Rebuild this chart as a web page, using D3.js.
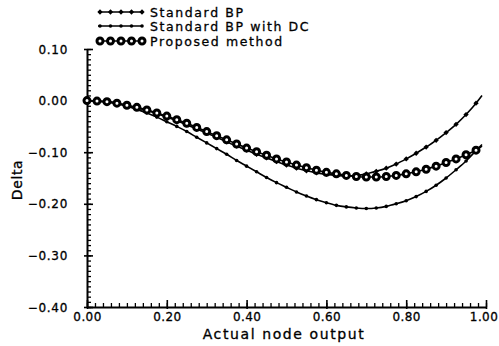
<!DOCTYPE html>
<meta charset="utf-8">
<style>
body { margin: 0; background: #fff; }
svg { display: block; }
text { font-family: "DejaVu Sans", sans-serif; fill: #000; stroke: #000; stroke-width: 0.3; }
</style>
<body>
<svg width="499" height="346"></svg>
</body>
<script src="https://d3js.org/d3.v7.min.js"></script>
<script>

// node output values where the curves were sampled
var xs = [0, 0.025, 0.05, 0.075, 0.1, 0.125, 0.15, 0.175, 0.2, 0.225,
  0.25, 0.275, 0.3, 0.325, 0.35, 0.375, 0.4, 0.425, 0.45, 0.475,
  0.5, 0.525, 0.55, 0.575, 0.6, 0.625, 0.65, 0.675, 0.7, 0.725,
  0.75, 0.775, 0.8, 0.825, 0.85, 0.875, 0.9, 0.925, 0.95, 0.975, 0.99];

var standardBP = [0, -0.001, -0.002, -0.005, -0.009, -0.014, -0.019, -0.025, -0.032, -0.039,
  -0.047, -0.055, -0.063, -0.071, -0.080, -0.088, -0.096, -0.104, -0.111, -0.118,
  -0.125, -0.131, -0.136, -0.140, -0.143, -0.145, -0.146, -0.145, -0.142, -0.137,
  -0.131, -0.123, -0.113, -0.102, -0.090, -0.077, -0.062, -0.046, -0.027, -0.005, 0.010];

var standardBPwithDC = [0, -0.001, -0.003, -0.006, -0.011, -0.017, -0.024, -0.032, -0.041, -0.050,
  -0.060, -0.071, -0.082, -0.093, -0.104, -0.116, -0.127, -0.138, -0.149, -0.159,
  -0.168, -0.177, -0.185, -0.192, -0.198, -0.203, -0.206, -0.208, -0.209, -0.208,
  -0.205, -0.200, -0.194, -0.186, -0.176, -0.164, -0.150, -0.134, -0.117, -0.097, -0.085];

var proposed = [0, -0.001, -0.002, -0.005, -0.009, -0.013, -0.018, -0.024, -0.030, -0.037,
  -0.044, -0.052, -0.060, -0.068, -0.076, -0.084, -0.092, -0.099, -0.106, -0.113,
  -0.119, -0.125, -0.130, -0.135, -0.139, -0.142, -0.145, -0.147, -0.148, -0.148,
  -0.147, -0.145, -0.142, -0.138, -0.133, -0.127, -0.120, -0.113, -0.105, -0.096, -0.088];

var legendLabels = ["Standard  BP", "Standard  BP  with  DC", "Proposed  method"];
var xTicks = [0, 0.2, 0.4, 0.6, 0.8, 1.0];
var yTicks = [0.10, 0.00, -0.10, -0.20, -0.30, -0.40];
var xMinor = d3.range(0, 51).map(i => i / 50);
var yMinor = d3.range(0, 51).map(i => (10 - i) / 100);

var svg = d3.select("svg");

var x = d3.scaleLinear().domain([0, 1]).range([87, 486]);
var y = d3.scaleLinear().domain([-0.4, 0.1]).range([307, 49]);

var fmt = function(v) { return d3.format(".2f")(v).replace("-", "\u2212"); };

// ---- axes ----
// minor ticks pointing into the plot
svg.append("g")
    .attr("transform", `translate(${x(0)},0)`)
    .call(d3.axisLeft(y).tickValues(yMinor).tickSizeInner(-4).tickSizeOuter(0).tickFormat(""))
    .call(g => g.selectAll(".tick line").attr("stroke-width", 1.3))
    .call(g => g.select(".domain").attr("stroke-width", 2));

svg.append("g")
    .attr("transform", `translate(0,${y(-0.4)})`)
    .call(d3.axisBottom(x).tickValues(xMinor).tickSizeInner(-4).tickSizeOuter(0).tickFormat(""))
    .call(g => g.selectAll(".tick line").attr("stroke-width", 1.3))
    .call(g => g.select(".domain").attr("stroke-width", 2));

// major ticks and labels
svg.append("g")
    .attr("transform", `translate(${x(0)},0)`)
    .call(d3.axisLeft(y).tickValues(yTicks).tickSize(3).tickPadding(16).tickFormat(fmt))
    .call(g => g.select(".domain").remove())
    .call(g => g.selectAll(".tick line").attr("x2", -3).attr("x1", 6).attr("stroke-width", 1.6))
    .call(g => g.selectAll(".tick text")
        .attr("font-family", "DejaVu Sans").attr("font-size", 12)
        .attr("letter-spacing", 0.7).attr("dy", "0.34em"));

svg.append("g")
    .attr("transform", `translate(0,${y(-0.4)})`)
    .call(d3.axisBottom(x).tickValues(xTicks).tickSize(2).tickPadding(3).tickFormat(fmt))
    .call(g => g.select(".domain").remove())
    .call(g => g.selectAll(".tick line").attr("y1", -7).attr("stroke-width", 1.6))
    .call(g => g.selectAll(".tick text")
        .attr("font-family", "DejaVu Sans").attr("font-size", 12)
        .attr("letter-spacing", 0.4)
        .attr("dx", d => d === 1 ? -2.5 : 0));

svg.append("text")
    .attr("x", 284).attr("y", 339)
    .attr("text-anchor", "middle")
    .attr("font-size", 14)
    .attr("letter-spacing", 1.6)
    .text("Actual  node  output");

svg.append("text")
    .attr("transform", "translate(22,180) rotate(-90)")
    .attr("text-anchor", "middle")
    .attr("font-size", 14)
    .attr("letter-spacing", 0.6)
    .text("Delta");

// ---- series ----
var series = [
  { name: legendLabels[0], values: standardBP, mark: "square" },
  { name: legendLabels[1], values: standardBPwithDC, mark: "dot" },
  { name: legendLabels[2], values: proposed, mark: "ring" }
];

var line = d3.line().x(d => x(d[0])).y(d => y(d[1])).curve(d3.curveMonotoneX);

function drawMark(g, kind) {
  if (kind === "square") {
    g.append("path").attr("d", d3.symbol(d3.symbolSquare, 14)()).attr("fill", "#000")
      .attr("transform", "rotate(45)");
  } else if (kind === "dot") {
    g.append("circle").attr("r", 1.8).attr("fill", "#000");
  } else {
    g.append("circle").attr("r", 3).attr("fill", "#fff")
      .attr("stroke", "#000").attr("stroke-width", 3);
  }
}

series.forEach(function(s) {
  var pts = xs.map((v, i) => [v, s.values[i]]);
  var g = svg.append("g");
  g.append("path")
      .datum(pts)
      .attr("d", line)
      .attr("fill", "none")
      .attr("stroke", "#000")
      .attr("stroke-width", 1.6);
  g.selectAll("g.m")
    .data(pts.slice(0, pts.length - 1))
    .enter().append("g")
      .attr("transform", d => `translate(${x(d[0])},${y(d[1])})`)
      .each(function() { drawMark(d3.select(this), s.mark); });
});

// ---- legend ----
var legendY = [12, 26, 41];
var lg = svg.append("g");
series.forEach(function(s, i) {
  var row = lg.append("g").attr("transform", `translate(0,${legendY[i]})`);
  row.append("line")
      .attr("x1", 98).attr("x2", 143)
      .attr("stroke", "#000").attr("stroke-width", 1.5);
  d3.range(5).forEach(function(k) {
    var m = row.append("g").attr("transform", `translate(${100 + k * 10.5},0)`);
    drawMark(m, s.mark);
  });
  row.append("text")
      .attr("x", 150).attr("y", 4.5)
      .attr("font-size", 12.5)
      .attr("letter-spacing", 1.6)
      .text(s.name);
});

</script>
